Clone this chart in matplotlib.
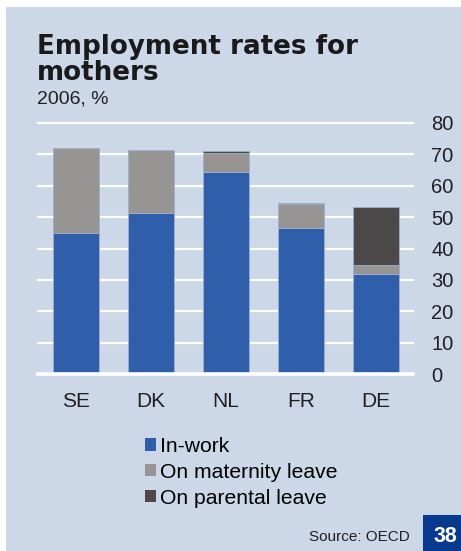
import matplotlib
matplotlib.use("Agg")
import matplotlib.pyplot as plt
from matplotlib.patches import Rectangle
import numpy as np

countries = ["SE", "DK", "NL", "FR", "DE"]
in_work = [45.0, 51.3, 64.4, 46.5, 31.8]
maternity = [27.0, 20.0, 6.1, 7.7, 3.0]
parental = [0.0, 0.0, 0.6, 0.2, 18.5]
y_ticks = [0, 10, 20, 30, 40, 50, 60, 70, 80]
series_labels = ["In-work", "On maternity leave", "On parental leave"]

BG = "#ccd7e8"
BLUE = "#2f5faa"
GREY = "#979593"
DARK = "#4b4847"
NAVY = "#073a8e"

plt.rcParams["font.family"] = ["Liberation Sans", "DejaVu Sans"]

W, H = 461, 551
fig = plt.figure(figsize=(W / 100, H / 100), dpi=100, facecolor="white")

def fx(px):
    return px / W

def fy(py):
    return 1 - py / H

# panel background
fig.add_artist(Rectangle((fx(6), 0), 1 - fx(6), fy(7), transform=fig.transFigure,
                         facecolor=BG, edgecolor="none", zorder=0))

ax = fig.add_axes([fx(38.3), fy(374.3), fx(413.3) - fx(38.3), fy(122.7) - fy(374.3)])
ax.set_facecolor("none")
ax.set_xlim(-0.5, 4.5)
ax.set_ylim(0, 80)
for s in ax.spines.values():
    s.set_visible(False)

for t in y_ticks[1:]:
    ax.axhline(t, color="white", lw=1.6, zorder=1, clip_on=False)
ax.axhline(0, color="white", lw=2.6, zorder=4, clip_on=False)

x = np.arange(len(countries))
w = 0.62
edge = dict(edgecolor="#9fb0cc", linewidth=0.6)
b1 = ax.bar(x, in_work, w, color=BLUE, zorder=2, label=series_labels[0], **edge)
b2 = ax.bar(x, maternity, w, bottom=in_work, color=GREY, zorder=2,
            label=series_labels[1], **edge)
bottom2 = [a + b for a, b in zip(in_work, maternity)]
b3 = ax.bar(x, parental, w, bottom=bottom2, color=DARK, zorder=2,
            label=series_labels[2], **edge)

ax.set_xticks(x)
ax.set_xticklabels(countries, fontsize=15, color="#231f20")
ax.set_yticks(y_ticks)
ax.set_yticklabels([str(v) for v in y_ticks], fontsize=14.5, color="#231f20")
ax.yaxis.tick_right()
ax.tick_params(axis="both", length=0)
ax.tick_params(axis="y", pad=13)
ax.tick_params(axis="x", pad=12.5)

# titles
fig.text(fx(37), fy(54), "Employment rates for", fontsize=18.8, fontweight="heavy",
         family=["DejaVu Sans"], color="#1a1a1a", va="baseline")
fig.text(fx(37), fy(80), "mothers", fontsize=18.8, fontweight="heavy",
         family=["DejaVu Sans"], color="#1a1a1a", va="baseline")
fig.text(fx(37), fy(103), "2006, %", fontsize=14, color="#231f20", va="baseline")

# legend
leg = fig.legend(handles=[b1, b2, b3], labels=series_labels, loc="upper left",
                 bbox_to_anchor=(fx(145), fy(437)), frameon=False, fontsize=15.2,
                 handlelength=0.52, handleheight=0.52, handletextpad=0.18,
                 labelspacing=0.32, borderpad=0, borderaxespad=0)
for h in leg.legend_handles:
    h.set_edgecolor("none")

# source and page number
fig.text(fx(410), fy(541), "Source: OECD", fontsize=11, color="#231f20",
         ha="right", va="baseline")
fig.add_artist(Rectangle((fx(423), 0), 1 - fx(423), fy(515), transform=fig.transFigure,
                         facecolor=NAVY, edgecolor="none", zorder=1))
fig.text(fx(445), fy(541.5), "38", fontsize=15.5, fontweight="bold", color="white",
         ha="center", va="baseline", zorder=2)

fig.savefig("out.png", dpi=100, facecolor="white")
